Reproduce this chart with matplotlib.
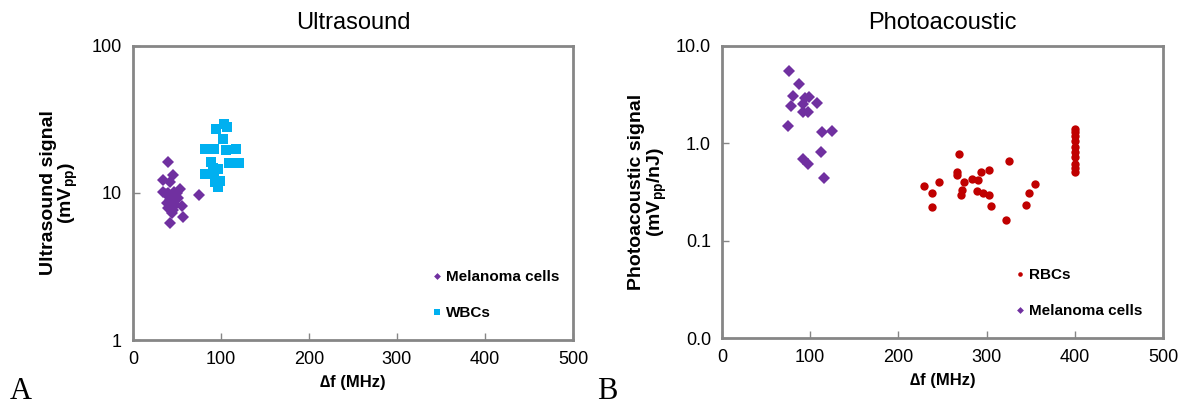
import matplotlib
matplotlib.use("Agg")
import matplotlib.pyplot as plt
from matplotlib.ticker import FixedLocator, FixedFormatter

plt.rcParams['font.family'] = ['Liberation Sans', 'DejaVu Sans']
plt.rcParams['mathtext.fontset'] = 'custom'
plt.rcParams['mathtext.rm'] = 'Liberation Sans'
plt.rcParams['mathtext.bf'] = 'Liberation Sans:bold'

PURPLE = '#7030A0'
CYAN = '#00B0F0'
RED = '#C00000'
SPINE = '#868686'

# --- Ultrasound panel ---
us_mel_f = [40, 45.8, 34.4, 42, 53.4, 34.4, 40, 49.7, 75.3, 42, 51.5, 55.3,
            40, 45.8, 44, 57.2, 42, 38.3, 47.7, 43, 47, 38]
us_mel_v = [16.2, 13.3, 12.3, 11.9, 10.6, 10.2, 9.95, 9.95, 9.7, 8.96, 9.2, 8.2,
            7.87, 7.66, 7.28, 6.9, 6.28, 8.5, 8.3, 9.4, 10.2, 9.8]
us_wbc_f = [94.3, 103.4, 107.2, 101.9, 81.8, 92.4, 105.7, 116.7, 88.3, 109.4,
            120.1, 91.3, 97, 81.8, 92, 95.1, 98.9, 97, 93.2]
us_wbc_v = [27.1, 29.5, 28.3, 23.3, 19.8, 19.8, 19.5, 19.8, 16.3, 16.1,
            15.9, 14.9, 14.5, 13.5, 13.5, 12.1, 12.1, 11.0, 11.9]

# --- Photoacoustic panel ---
pa_mel_f = [76, 87.3, 80.9, 94.1, 98.6, 107.4, 77.9, 92.2, 91.5, 97.2, 74.5,
            113, 124.4, 111.9, 92.2, 97.8, 116]
pa_mel_v = [5.57, 4.07, 3.06, 2.94, 2.96, 2.61, 2.44, 2.54, 2.11, 2.08, 1.52,
            1.31, 1.34, 0.82, 0.686, 0.61, 0.444]
pa_rbc_f = [268.7, 325.7, 303.1, 293.6, 266.1, 266.1, 283.4, 290.6, 274.4, 246.4,
            354.5, 229, 272.5, 288.8, 296.3, 302.7, 238.4, 270.6, 347.7, 344.3,
            304.6, 238.4, 322,
            400, 400, 400, 400, 400, 400, 400, 400, 400, 400]
pa_rbc_v = [0.776, 0.658, 0.532, 0.512, 0.504, 0.472, 0.427, 0.42, 0.40, 0.40,
            0.382, 0.364, 0.329, 0.327, 0.311, 0.294, 0.306, 0.292, 0.308, 0.232,
            0.225, 0.22, 0.163,
            1.42, 1.3, 1.18, 1.05, 0.92, 0.82, 0.72, 0.62, 0.56, 0.51]

x_ticks = [0, 100, 200, 300, 400, 500]

fig = plt.figure(figsize=(11.84, 4.07), dpi=100)
ax1 = fig.add_axes([0.1123, 0.1646, 0.3716, 0.7224])
ax2 = fig.add_axes([0.6098, 0.1695, 0.3725, 0.7175])


def style(ax):
    for sp in ax.spines.values():
        sp.set_color(SPINE)
        sp.set_linewidth(2)
    ax.set_xlim(0, 500)
    ax.set_xticks(x_ticks)
    ax.tick_params(axis='both', which='major', direction='in', length=5,
                   width=1, color=SPINE, labelsize=13, pad=8)
    ax.tick_params(which='minor', left=False, length=0)
    ax.set_xlabel('∆f (MHz)', fontsize=12, fontweight='bold', labelpad=5)


ax1.plot(us_mel_f, us_mel_v, 'D', color=PURPLE, markersize=6.3, mew=0,
         label='Melanoma cells')
ax1.plot(us_wbc_f, us_wbc_v, 's', color=CYAN, markersize=6.8, mew=0,
         label='WBCs')
ax1.set_yscale('log')
ax1.set_ylim(1, 100)
ax1.yaxis.set_major_locator(FixedLocator([1, 10, 100]))
ax1.yaxis.set_major_formatter(FixedFormatter(['1', '10', '100']))
style(ax1)
ax1.set_title('Ultrasound', fontsize=17, pad=12)
ax1.set_ylabel('Ultrasound signal\n(mV$_{\\bf pp}$)', fontsize=14,
               fontweight='bold', labelpad=8, linespacing=1.0)
ax1.legend(loc='lower right', bbox_to_anchor=(1.0, 0.02), frameon=False,
           markerscale=0.55, handlelength=0.6, handletextpad=0.3,
           labelspacing=1.45, prop={'weight': 'bold', 'size': 11})

ax2.plot(pa_rbc_f, pa_rbc_v, 'o', color=RED, markersize=6, mew=0,
         label='RBCs')
ax2.plot(pa_mel_f, pa_mel_v, 'D', color=PURPLE, markersize=6.3, mew=0,
         label='Melanoma cells')
ax2.set_yscale('log')
ax2.set_ylim(0.01, 10)
ax2.yaxis.set_major_locator(FixedLocator([0.01, 0.1, 1, 10]))
ax2.yaxis.set_major_formatter(FixedFormatter(['0.0', '0.1', '1.0', '10.0']))
style(ax2)
ax2.set_title('Photoacoustic', fontsize=17, pad=12)
ax2.set_ylabel('Photoacoustic signal\n(mV$_{\\bf pp}$/nJ)', fontsize=14,
               fontweight='bold', labelpad=5, linespacing=1.0)
ax2.legend(loc='lower right', bbox_to_anchor=(0.985, 0.02), frameon=False,
           markerscale=0.55, handlelength=0.6, handletextpad=0.3,
           labelspacing=1.45, prop={'weight': 'bold', 'size': 11})

fig.text(0.008, 0.02, 'A', fontsize=22, family='Liberation Serif')
fig.text(0.504, 0.02, 'B', fontsize=22, family='Liberation Serif')

fig.savefig('out.png', dpi=100)
